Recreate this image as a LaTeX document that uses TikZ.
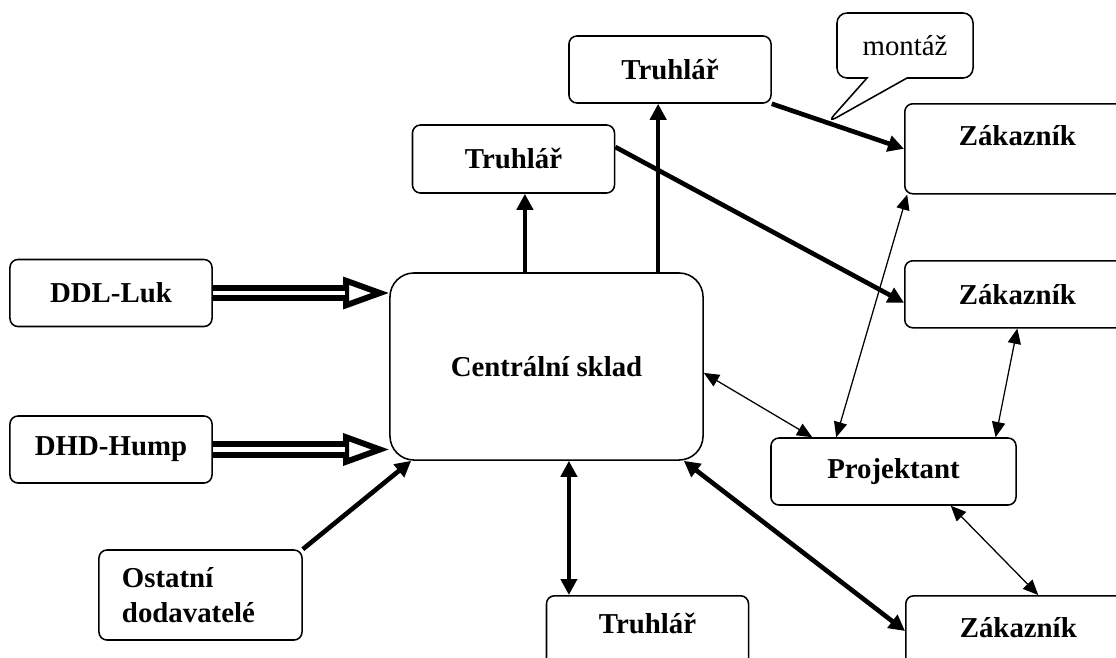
\documentclass[tikz,border=0pt]{standalone}
\usepackage{fontspec}
\setmainfont{Liberation Serif}
\usepackage{tikz}
\usetikzlibrary{shapes,shapes.callouts,arrows,arrows.meta,positioning,calc}

\begin{document}
\begin{tikzpicture}
            [x=0.025cm, y=-0.025cm, font=\fontsize{20.5}{25}\selectfont\bfseries,
             box/.style={draw, rectangle, rounded corners=0.2cm, line width=1.1pt, align=center, minimum width=5.05cm, minimum height=1.675cm, inner sep=0.1cm},
             fat/.style={line width=3.3pt, -{Triangle[length=0.4cm, width=0.4cm]}},
             fatboth/.style={line width=3.3pt, {Triangle[length=0.4cm, width=0.4cm]}-{Triangle[length=0.4cm, width=0.4cm]}},
             slim/.style={line width=0.9pt, {Triangle[length=0.38cm, width=0.33cm]}-{Triangle[length=0.38cm, width=0.33cm]}},
             hollowhead/.style={line width=0.4pt, -{Triangle[open, fill=white, length=1.15cm, width=0.78cm, line width=4.2pt]}},
             hollowshaft/.style={double, line width=4.2pt, double distance=3.2pt, shorten >=1.1cm}]
            \useasboundingbox (0,0) rectangle (1116,657);

            % boxes
            \node[box] (trtop) at (670,69.5) {Truhlář};
            \node[box, minimum height=1.7cm] (trmid) at (513.5,159) {Truhlář};
            \node[box, anchor=north west, minimum width=5.625cm, text height=0.94cm, text depth=1.11cm] (zak1) at (904,103) {Zákazník};
            \node[box, anchor=north west, minimum width=5.625cm] (zak2) at (904,260) {Zákazník};
            \node[box] (ddl) at (111,293) {DDL-Luk};
            \node[box, rounded corners=0.6cm, minimum width=7.825cm, minimum height=4.675cm] (csk) at (546.5,366.5) {Centrální sklad};
            \node[box] (dhd) at (111,449.5) {DHD-Hump};
            \node[box, minimum width=6.125cm] (proj) at (893.5,471.5) {Projektant};
            \node[box, align=left, text width=3.925cm, inner xsep=0.575cm, minimum height=2.25cm] (ost) at (200.5,595) {Ostatní\\dodavatelé};
            \node[box, anchor=north, text height=0.84cm, text depth=1.2cm] (trbot) at (647.5,595) {Truhlář};
            \node[box, anchor=north west, minimum width=5.625cm, text height=0.94cm, text depth=1.2cm] (zak3) at (905,595) {Zákazník};

            % callout
            \coordinate (mtip) at ($(trtop.south east)!0.42!(zak1.west)$);
            \node[rectangle callout, draw, rounded corners=0.25cm, line width=1.1pt, minimum width=3.4cm, minimum height=1.625cm,
                  callout absolute pointer={(mtip)}, callout pointer width=1cm,
                  font=\fontsize{20.5}{25}\selectfont\mdseries] (mont) at (905,45.5) {montáž};

            % supply
            \draw[hollowhead] (ddl.east) -- (ddl.east -| csk.west);
            \draw[hollowshaft] (ddl.east) -- (ddl.east -| csk.west);
            \draw[hollowhead] (dhd.east) -- (dhd.east -| csk.west);
            \draw[hollowshaft] (dhd.east) -- (dhd.east -| csk.west);
            \draw[fat] (ost.north east) -- ([xshift=0.55cm]csk.south west);

            % distribution
            \draw[fat] ([xshift=-0.54cm]csk.north) -- ([xshift=-0.54cm]csk.north |- trmid.south);
            \draw[fat] ([xshift=2.79cm]csk.north) -- ([xshift=2.79cm]csk.north |- trtop.south);
            \draw[fat] ([yshift=0.3cm]trmid.east) -- ([yshift=-0.21cm]zak2.west);
            \draw[fat] (trtop.south east) -- (zak1.west);
            \draw[fatboth] ([xshift=0.56cm]csk.south) -- ([xshift=0.56cm]csk.south |- trbot.north);
            \draw[fatboth] ([xshift=-0.5cm]csk.south east) -- ([yshift=0.29cm]zak3.west);

            % projektant
            \draw[slim] ([yshift=-0.16cm]csk.east) -- ([xshift=1.05cm]proj.north west);
            \draw[slim] ([xshift=0.08cm]zak1.south west) -- ([xshift=1.65cm]proj.north west);
            \draw[slim] (zak2.south) -- ([xshift=-0.53cm]proj.north east);
            \draw[slim] ([xshift=-1.65cm]proj.south east) -- ([xshift=3.33cm]zak3.north west);
\end{tikzpicture}
\end{document}
